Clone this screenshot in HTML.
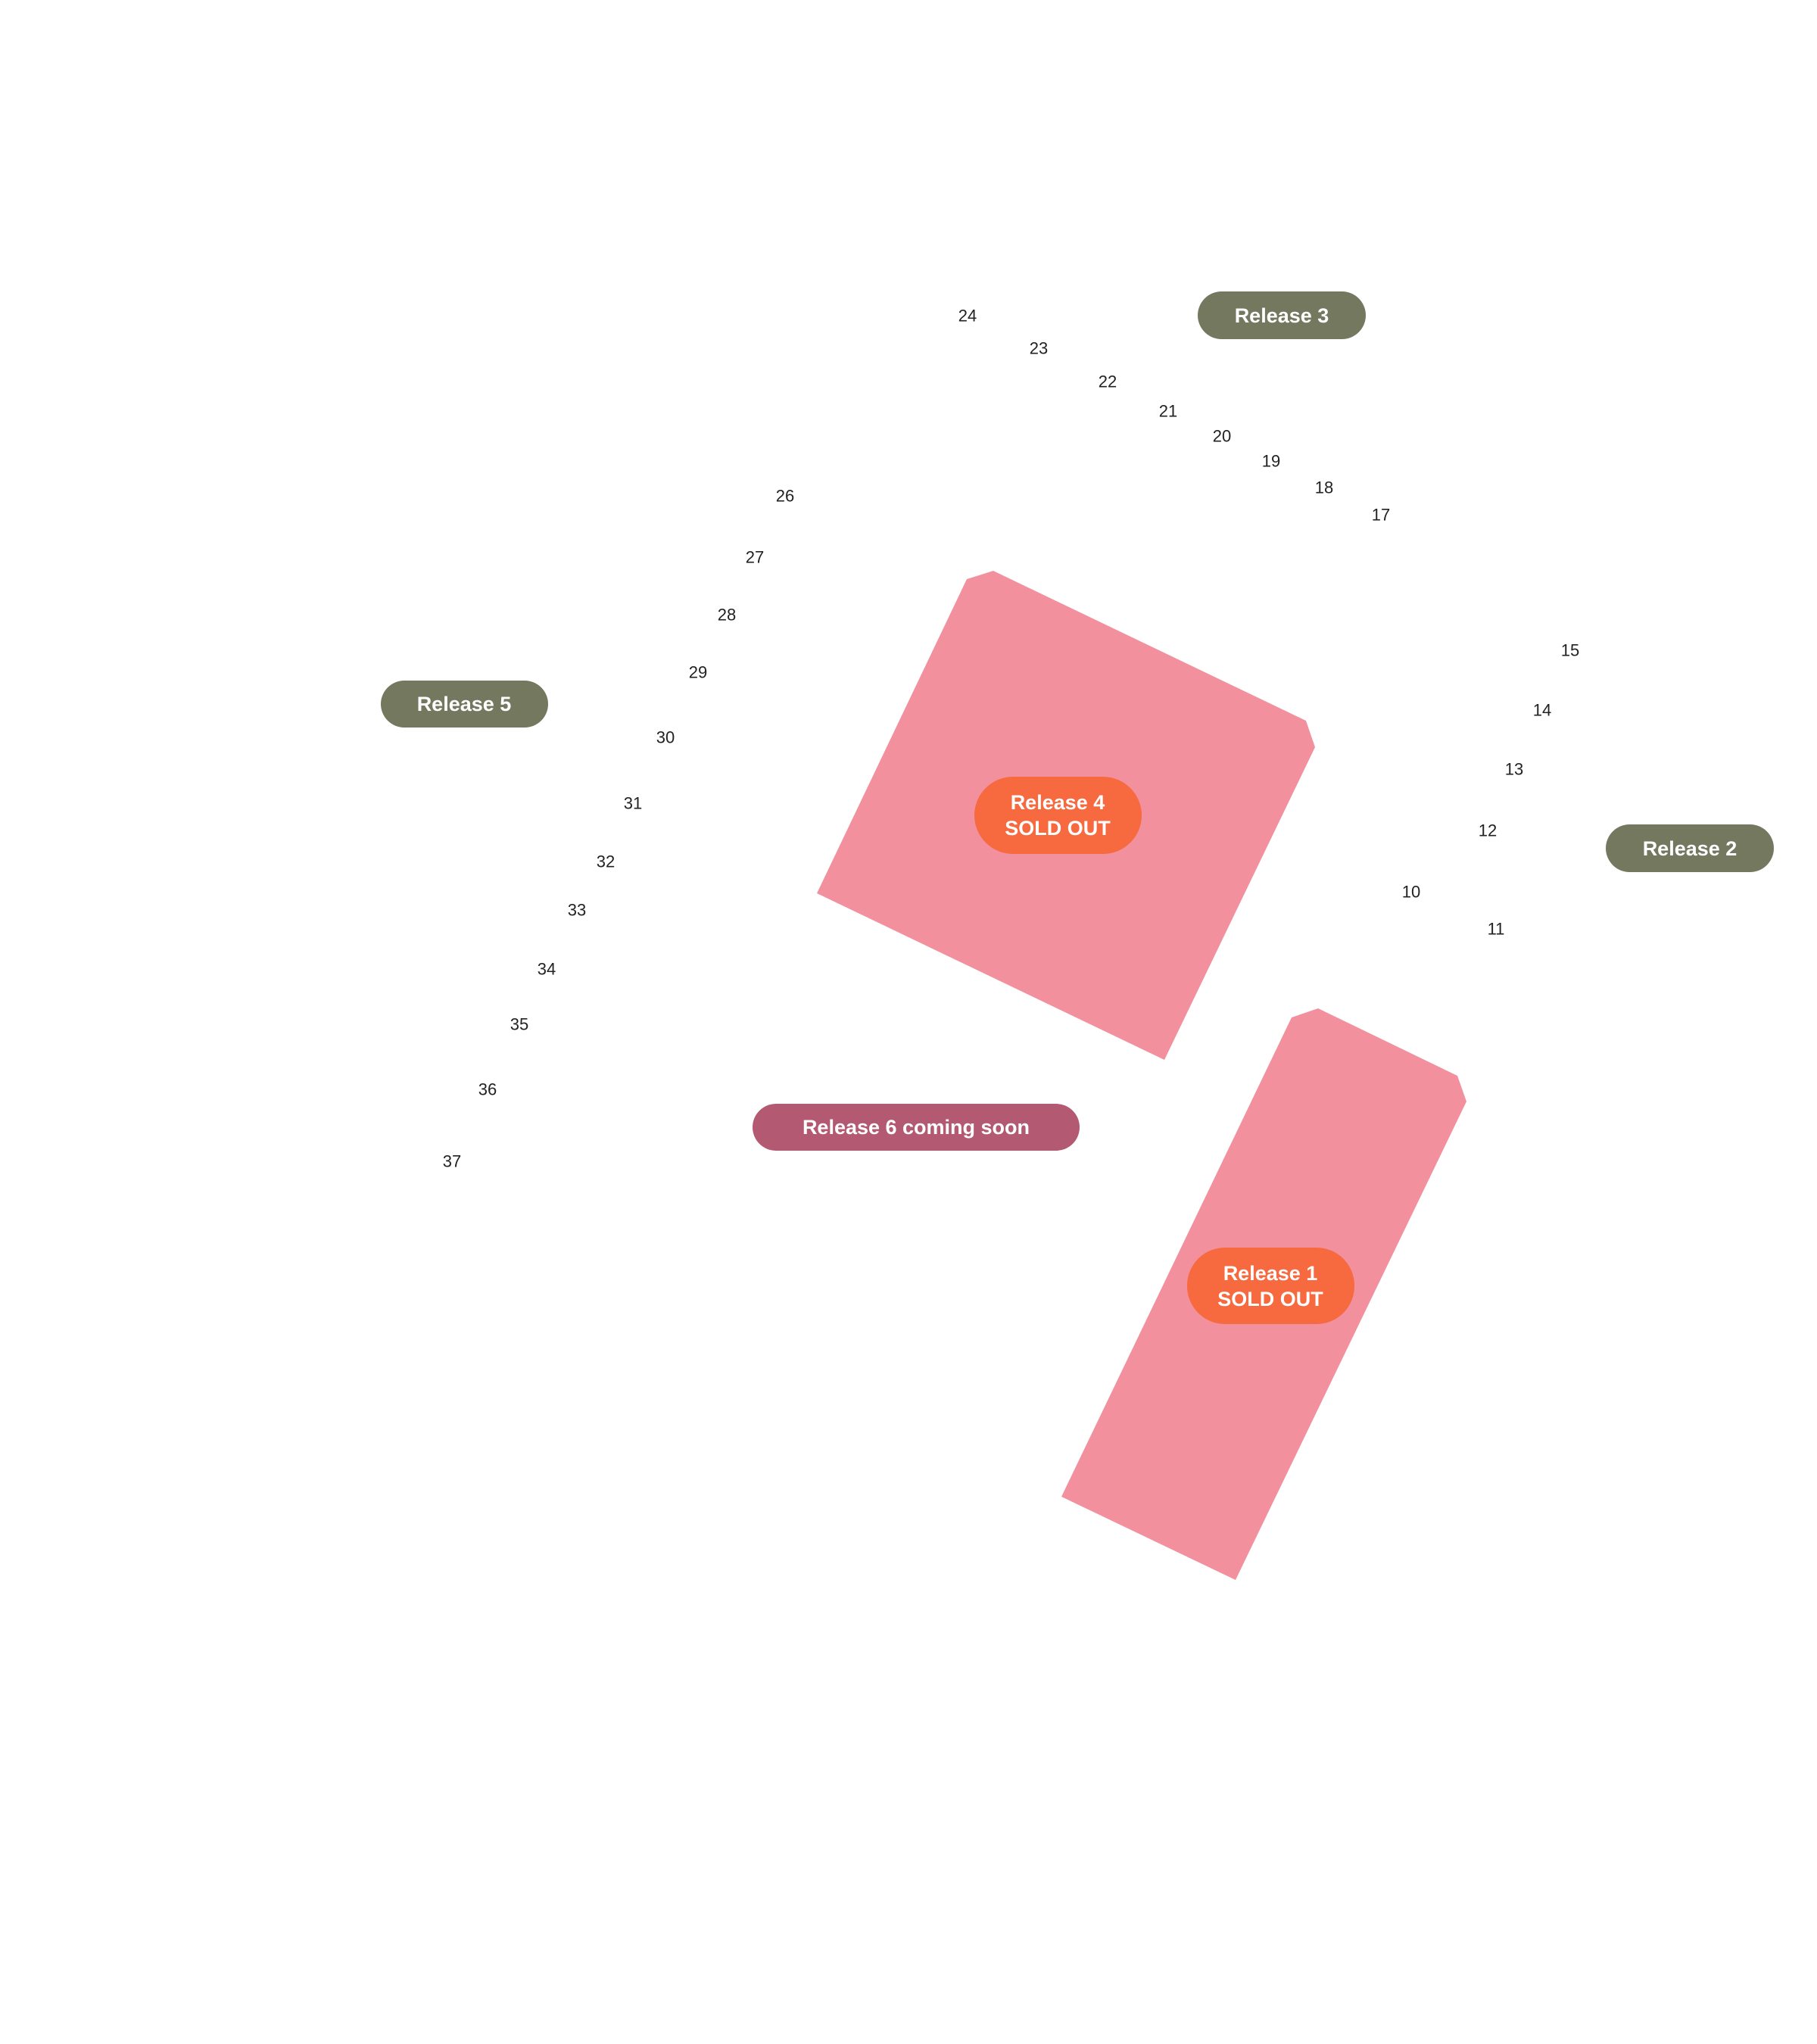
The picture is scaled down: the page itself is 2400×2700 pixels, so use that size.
<!DOCTYPE html>
<html><head><meta charset="utf-8">
<style>
html,body{margin:0;padding:0;background:#fff;}
svg{display:block;}
.n{font-family:"Liberation Sans",sans-serif;font-size:22px;fill:#222;text-anchor:middle;dominant-baseline:central;}
.p{font-family:"Liberation Sans",sans-serif;font-size:27px;font-weight:bold;fill:#fff;text-anchor:middle;dominant-baseline:central;}
</style></head>
<body>
<svg width="2400" height="2700" viewBox="0 0 2400 2700" xmlns="http://www.w3.org/2000/svg">
<rect width="2400" height="2700" fill="#fff"/>
<polygon points="1277,765 1312,754 1725,952 1737,987 1538,1400 1079,1180" fill="#f2919d"/>
<polygon points="1706,1344 1741,1332 1925,1421 1937,1455 1632,2087 1402,1977" fill="#f2919d"/>

<rect x="1287" y="1026" width="221" height="102" rx="51" fill="#f7693e"/>
<text class="p" x="1397" y="1060">Release 4</text>
<text class="p" x="1397" y="1094">SOLD OUT</text>

<rect x="1568" y="1648" width="221" height="101" rx="50" fill="#f7693e"/>
<text class="p" x="1678" y="1682">Release 1</text>
<text class="p" x="1678" y="1716">SOLD OUT</text>

<rect x="994" y="1458" width="432" height="62" rx="31" fill="#b35a72"/>
<text class="p" x="1210" y="1489">Release 6 coming soon</text>

<rect x="1582" y="385" width="222" height="63" rx="31.5" fill="#74785f"/>
<text class="p" x="1693" y="417">Release 3</text>
<rect x="503" y="899" width="221" height="62" rx="31" fill="#74785f"/>
<text class="p" x="613" y="930">Release 5</text>
<rect x="2121" y="1089" width="222" height="63" rx="31.5" fill="#74785f"/>
<text class="p" x="2232" y="1121">Release 2</text>

<text class="n" x="1278" y="417">24</text>
<text class="n" x="1372" y="460">23</text>
<text class="n" x="1463" y="504">22</text>
<text class="n" x="1543" y="543">21</text>
<text class="n" x="1614" y="576">20</text>
<text class="n" x="1679" y="609">19</text>
<text class="n" x="1749" y="644">18</text>
<text class="n" x="1824" y="680">17</text>
<text class="n" x="2074" y="859">15</text>
<text class="n" x="2037" y="938">14</text>
<text class="n" x="2000" y="1016">13</text>
<text class="n" x="1965" y="1097">12</text>
<text class="n" x="1864" y="1178">10</text>
<text class="n" x="1976" y="1227">11</text>
<text class="n" x="1037" y="655">26</text>
<text class="n" x="997" y="736">27</text>
<text class="n" x="960" y="812">28</text>
<text class="n" x="922" y="888">29</text>
<text class="n" x="879" y="974">30</text>
<text class="n" x="836" y="1061">31</text>
<text class="n" x="800" y="1138">32</text>
<text class="n" x="762" y="1202">33</text>
<text class="n" x="722" y="1280">34</text>
<text class="n" x="686" y="1353">35</text>
<text class="n" x="644" y="1439">36</text>
<text class="n" x="597" y="1534">37</text>
</svg>
</body></html>
